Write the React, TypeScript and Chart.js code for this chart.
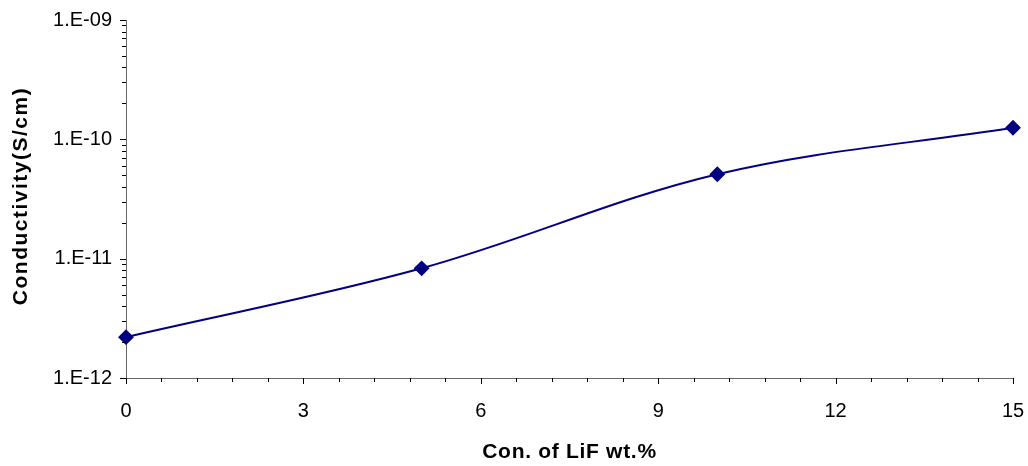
import React, { useEffect, useRef } from "react";
import { Chart, registerables } from "chart.js";

Chart.register(...registerables);

const concentrations = [0, 5, 10, 15];
const conductivity = [2.2e-12, 8.3e-12, 5.1e-11, 1.25e-10];
const xTicks = [0, 3, 6, 9, 12, 15];
const yTicks = [1e-12, 1e-11, 1e-10, 1e-9];
const yTickLabels = ["1.E-12", "1.E-11", "1.E-10", "1.E-09"];
const xTitle = "Con. of LiF wt.%";
const yTitle = "Conductivity(S/cm)";

const FONT = "Liberation Sans, Arial, sans-serif";

const excelPlugin = {
  id: "excelDecor",
  afterDraw(chart: any) {
    const ctx = chart.ctx;
    const xs = chart.scales.x;
    const ys = chart.scales.y;
    const area = chart.chartArea;
    ctx.save();
    ctx.strokeStyle = "#000";
    ctx.lineWidth = 1;
    ctx.beginPath();
    for (let i = 0; i <= 25; i++) {
      const v = i * 0.6;
      const px = Math.round(xs.getPixelForValue(v)) + 0.5;
      const major = i % 5 === 0;
      ctx.moveTo(px, area.bottom);
      ctx.lineTo(px, area.bottom + (major ? 6 : 4));
    }
    for (let e = -12; e <= -9; e++) {
      for (let m = 1; m <= 9; m++) {
        if (e === -9 && m > 1) break;
        const v = m * Math.pow(10, e);
        const py = Math.round(ys.getPixelForValue(v)) + 0.5;
        const major = m === 1;
        ctx.moveTo(area.left, py);
        ctx.lineTo(area.left - (major ? 6 : 4), py);
      }
    }
    ctx.stroke();

    // axis titles
    ctx.fillStyle = "#000";
    ctx.font = `bold 21px ${FONT}`;
    ctx.textAlign = "center";
    ctx.textBaseline = "middle";
    (ctx as any).letterSpacing = "0.7px";
    ctx.fillText(xTitle, (area.left + area.right) / 2, 452);
    ctx.translate(21, 196);
    ctx.rotate(-Math.PI / 2);
    (ctx as any).letterSpacing = "1.5px";
    ctx.fillText(yTitle, 0, 0);
    ctx.restore();
  },
};

export default function App() {
  const ref = useRef<HTMLCanvasElement>(null);
  useEffect(() => {
    document.body.style.margin = "0";
    const chart = new Chart(ref.current!, {
      type: "line",
      data: {
        datasets: [
          {
            data: concentrations.map((x, i) => ({ x, y: conductivity[i] })),
            borderColor: "#000080",
            backgroundColor: "#000080",
            borderWidth: 2,
            pointStyle: "rectRot",
            pointRadius: 6.5,
            pointHoverRadius: 6.5,
            tension: 0.35,
            clip: false as any,
          },
        ],
      },
      options: {
        animation: false,
        responsive: true,
        maintainAspectRatio: false,
        layout: { padding: { top: 20, right: 15, left: 0, bottom: 0 } },
        plugins: { legend: { display: false }, tooltip: { enabled: false } },
        scales: {
          x: {
            type: "linear",
            min: 0,
            max: 15,
            afterBuildTicks: (s: any) => {
              s.ticks = xTicks.map((v) => ({ value: v }));
            },
            afterFit: (s: any) => {
              s.height = 88;
              s.paddingLeft = 0;
              s.paddingRight = 0;
            },
            grid: { display: false, drawTicks: false },
            border: { display: true, color: "#666", width: 1 },
            ticks: {
              color: "#000",
              font: { family: FONT, size: 20 },
              padding: 21,
              maxRotation: 0,
            },
            title: { display: false },
          },
          y: {
            type: "logarithmic",
            min: 1e-12,
            max: 1e-9,
            afterBuildTicks: (s: any) => {
              s.ticks = yTicks.map((v) => ({ value: v }));
            },
            afterFit: (s: any) => {
              s.width = 126;
              s.paddingTop = 0;
              s.paddingBottom = 0;
            },
            grid: { display: false, drawTicks: false },
            border: { display: true, color: "#666", width: 1 },
            ticks: {
              color: "#000",
              font: { family: FONT, size: 20 },
              padding: 14,
              autoSkip: false,
              callback: (v: any) => {
                const idx = yTicks.findIndex(
                  (t) => Math.abs(Math.log10(t) - Math.log10(Number(v))) < 1e-6
                );
                return idx >= 0 ? yTickLabels[idx] : "";
              },
            },
            title: { display: false },
          },
        },
      },
      plugins: [excelPlugin],
    });
    return () => chart.destroy();
  }, []);
  return (
    <div style={{ position: "relative", width: 1028, height: 466 }}>
      <canvas ref={ref} />
    </div>
  );
}
